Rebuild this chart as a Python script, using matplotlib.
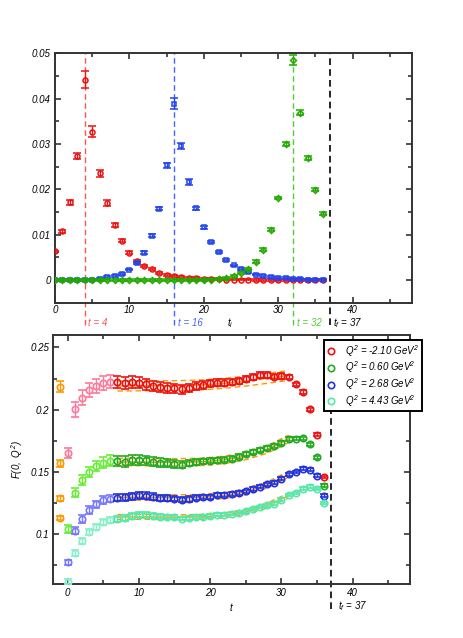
import matplotlib
matplotlib.use("Agg")
import matplotlib.pyplot as plt
from matplotlib.ticker import MultipleLocator, FuncFormatter
import numpy as np

plt.rcParams['font.family'] = ['Liberation Sans', 'DejaVu Sans']
plt.rcParams['font.style'] = 'italic'
plt.rcParams['mathtext.fontset'] = 'custom'
plt.rcParams['mathtext.rm'] = 'Liberation Sans:italic'
plt.rcParams['mathtext.it'] = 'Liberation Sans:italic'

# ---------------- top panel data ----------------
t_top = list(range(0, 37))
red_top = [0.0063, 0.0107, 0.0171, 0.0273, 0.0442, 0.0327, 0.0235, 0.0170, 0.0121, 0.0087,
           0.0060, 0.0042, 0.0031, 0.0024, 0.0016, 0.0011, 0.0008, 0.0006, 0.0005, 0.0004,
           0.0003, 0.0002, 0.0002, 0.0001, 0.0001, 0.0001, 0.0001, 0.0000, 0.0000, 0.0000,
           0.0000, 0.0000, 0.0000, 0.0000, 0.0000, 0.0000, 0.0000]
red_top_err = [0.0002, 0.0003, 0.0005, 0.0007, 0.0019, 0.0012, 0.0008, 0.0006, 0.0005, 0.0004,
               0.0003, 0.0003, 0.0002, 0.0002, 0.0002, 0.0002, 0.0002, 0.0002, 0.0002, 0.0002,
               0.0002, 0.0002, 0.0002, 0.0002, 0.0002, 0.0002, 0.0002, 0.0002, 0.0002, 0.0002,
               0.0002, 0.0002, 0.0002, 0.0002, 0.0002, 0.0002, 0.0002]
blue_top = [0.0000, 0.0000, 0.0000, 0.0000, 0.0000, 0.0001, 0.0003, 0.0006, 0.0009, 0.0013,
            0.0023, 0.0037, 0.0060, 0.0098, 0.0157, 0.0253, 0.0389, 0.0296, 0.0216, 0.0158,
            0.0116, 0.0084, 0.0062, 0.0044, 0.0032, 0.0024, 0.0018, 0.0012, 0.0008, 0.0006,
            0.0005, 0.0004, 0.0003, 0.0002, 0.0001, 0.0001, 0.0001]
blue_top_err = [0.0002, 0.0002, 0.0002, 0.0002, 0.0002, 0.0002, 0.0002, 0.0002, 0.0002, 0.0002,
                0.0002, 0.0002, 0.0003, 0.0003, 0.0003, 0.0005, 0.0012, 0.0007, 0.0006, 0.0003,
                0.0003, 0.0003, 0.0002, 0.0002, 0.0002, 0.0002, 0.0002, 0.0002, 0.0002, 0.0002,
                0.0002, 0.0002, 0.0002, 0.0002, 0.0002, 0.0002, 0.0002]
green_top = [0.0000, 0.0000, 0.0000, 0.0000, 0.0000, 0.0000, 0.0000, 0.0000, 0.0000, 0.0000,
             0.0000, 0.0000, 0.0000, 0.0000, 0.0000, 0.0000, 0.0000, 0.0000, 0.0000, 0.0000,
             0.0000, 0.0001, 0.0002, 0.0005, 0.0009, 0.0016, 0.0024, 0.0040, 0.0067, 0.0111,
             0.0181, 0.0300, 0.0485, 0.0369, 0.0269, 0.0199, 0.0146]
green_top_err = [0.0002, 0.0002, 0.0002, 0.0002, 0.0002, 0.0002, 0.0002, 0.0002, 0.0002, 0.0002,
                 0.0002, 0.0002, 0.0002, 0.0002, 0.0002, 0.0002, 0.0002, 0.0002, 0.0002, 0.0002,
                 0.0002, 0.0002, 0.0002, 0.0002, 0.0002, 0.0002, 0.0002, 0.0003, 0.0003, 0.0003,
                 0.0003, 0.0004, 0.0011, 0.0006, 0.0004, 0.0003, 0.0003]
source_times = [4, 16, 32]
source_labels = ['t = 4', 't = 16', 't = 32']
sink_time = 37
sink_label = r'$t_f$ = 37'

# ---------------- bottom panel data ----------------
t_bot = list(range(-1, 37))
legend_labels = [r'$Q^2$ = -2.10 GeV$^2$', r'$Q^2$ = 0.60 GeV$^2$',
                 r'$Q^2$ = 2.68 GeV$^2$', r'$Q^2$ = 4.43 GeV$^2$']
F_red = [0.2184, 0.1655, 0.2003, 0.2096, 0.2158, 0.2187, 0.2214, 0.2225,
         0.2222, 0.2214, 0.2219, 0.2217, 0.2206, 0.2190, 0.2182, 0.2176, 0.2171, 0.2166,
         0.2176, 0.2192, 0.2200, 0.2211, 0.2217, 0.2217, 0.2225, 0.2233, 0.2243, 0.2259,
         0.2275, 0.2275, 0.2265, 0.2270, 0.2262, 0.2203, 0.2142, 0.2005, 0.1797, 0.1460]
E_red = [0.0045, 0.0040, 0.0060, 0.0060, 0.0058, 0.0056, 0.0055, 0.0050,
         0.0050, 0.0050, 0.0048, 0.0046, 0.0044, 0.0042, 0.0040, 0.0040, 0.0038, 0.0036,
         0.0034, 0.0032, 0.0030, 0.0028, 0.0027, 0.0026, 0.0025, 0.0025, 0.0024, 0.0024,
         0.0024, 0.0024, 0.0022, 0.0022, 0.0016, 0.0014, 0.0013, 0.0012, 0.0012, 0.0010]
F_green = [0.1570, 0.1040, 0.1334, 0.1436, 0.1503, 0.1548, 0.1575, 0.1591,
           0.1588, 0.1583, 0.1594, 0.1599, 0.1594, 0.1583, 0.1575, 0.1572, 0.1564, 0.1559,
           0.1570, 0.1580, 0.1585, 0.1591, 0.1594, 0.1599, 0.1607, 0.1623, 0.1642, 0.1660,
           0.1676, 0.1695, 0.1708, 0.1735, 0.1765, 0.1767, 0.1770, 0.1722, 0.1620, 0.1390]
E_green = [0.0028, 0.0032, 0.0036, 0.0038, 0.0040, 0.0040, 0.0042, 0.0042,
           0.0044, 0.0044, 0.0042, 0.0040, 0.0038, 0.0036, 0.0034, 0.0032, 0.0030, 0.0028,
           0.0026, 0.0024, 0.0022, 0.0021, 0.0020, 0.0019, 0.0018, 0.0018, 0.0017, 0.0017,
           0.0016, 0.0016, 0.0015, 0.0015, 0.0014, 0.0013, 0.0012, 0.0012, 0.0012, 0.0010]
F_blue = [0.1289, 0.0773, 0.1027, 0.1123, 0.1195, 0.1240, 0.1273, 0.1286,
          0.1294, 0.1297, 0.1305, 0.1313, 0.1310, 0.1302, 0.1294, 0.1289, 0.1286, 0.1278,
          0.1283, 0.1294, 0.1300, 0.1302, 0.1313, 0.1315, 0.1323, 0.1331, 0.1345, 0.1364,
          0.1382, 0.1401, 0.1414, 0.1446, 0.1481, 0.1500, 0.1527, 0.1519, 0.1471, 0.1310]
E_blue = [0.0022, 0.0020, 0.0028, 0.0030, 0.0030, 0.0030, 0.0030, 0.0030,
          0.0030, 0.0030, 0.0029, 0.0028, 0.0027, 0.0026, 0.0025, 0.0024, 0.0023, 0.0022,
          0.0021, 0.0020, 0.0018, 0.0017, 0.0016, 0.0015, 0.0015, 0.0014, 0.0014, 0.0013,
          0.0013, 0.0013, 0.0012, 0.0012, 0.0012, 0.0011, 0.0011, 0.0011, 0.0010, 0.0010]
F_mint = [0.1131, 0.0620, 0.0847, 0.0946, 0.1019, 0.1059, 0.1096, 0.1112,
          0.1123, 0.1131, 0.1150, 0.1158, 0.1155, 0.1150, 0.1142, 0.1139, 0.1136, 0.1126,
          0.1128, 0.1139, 0.1142, 0.1147, 0.1155, 0.1155, 0.1163, 0.1171, 0.1184, 0.1203,
          0.1219, 0.1232, 0.1246, 0.1278, 0.1315, 0.1331, 0.1366, 0.1382, 0.1364, 0.1251]
E_mint = [0.0018, 0.0020, 0.0024, 0.0025, 0.0025, 0.0025, 0.0025, 0.0025,
          0.0025, 0.0025, 0.0024, 0.0023, 0.0022, 0.0020, 0.0018, 0.0017, 0.0016, 0.0015,
          0.0015, 0.0014, 0.0013, 0.0013, 0.0012, 0.0012, 0.0012, 0.0011, 0.0011, 0.0011,
          0.0011, 0.0010, 0.0010, 0.0010, 0.0010, 0.0010, 0.0010, 0.0010, 0.0010, 0.0010]

fit_t = [7, 10, 13, 16, 19, 22, 25, 28, 31]
fit_red = [0.2190, 0.2192, 0.2192, 0.2194, 0.2200, 0.2212, 0.2230, 0.2252, 0.2275]
fit_green = [0.1580, 0.1580, 0.1578, 0.1577, 0.1582, 0.1597, 0.1628, 0.1680, 0.1765]
fit_blue = [0.1296, 0.1297, 0.1295, 0.1293, 0.1297, 0.1310, 0.1340, 0.1395, 0.1482]
fit_mint = [0.1138, 0.1140, 0.1138, 0.1136, 0.1140, 0.1152, 0.1180, 0.1230, 0.1310]
fit_halfwidth = [0.0040, 0.0030, 0.0024, 0.0020]

# ---------------- styling ----------------
c_top = ['#ee1111', '#2244ee', '#22aa00']
c_vline = ['#ff5555', '#4466ff', '#55cc33']
c_main = ['#ee1111', '#22aa22', '#2233dd', '#55e8a8']
c_pale = ['#ff7799', '#66ee33', '#7777ff', '#88f0c8']
c_orange = '#ff9900'
spine_c = '#333333'
FS = 7

fig = plt.figure(figsize=(4.63, 6.38), dpi=100)
ax1 = fig.add_axes([0.1188, 0.5256, 0.7711, 0.3909])
ax2 = fig.add_axes([0.1151, 0.0846, 0.7698, 0.3903])

def style(ax):
    for s in ax.spines.values():
        s.set_linewidth(1.4)
        s.set_color(spine_c)
    ax.tick_params(which='both', direction='in', top=True, right=True,
                   labelsize=FS, color=spine_c, width=1.2, pad=3)
    ax.tick_params(which='major', length=4.5)
    ax.tick_params(which='minor', length=3)
    for lab in ax.get_xticklabels() + ax.get_yticklabels():
        lab.set_fontstyle('italic')

# ---- top ----
ax1.errorbar(t_top, red_top, yerr=red_top_err, fmt='o', ms=3.6, mfc='none', mec=c_top[0],
             mew=1.1, ecolor=c_top[0], elinewidth=1.0, capsize=2.6, capthick=1.0, zorder=3)
ax1.errorbar(t_top, blue_top, yerr=blue_top_err, fmt='s', ms=3.4, mfc='none', mec=c_top[1],
             mew=1.1, ecolor=c_top[1], elinewidth=1.0, capsize=2.6, capthick=1.0, zorder=4)
ax1.errorbar(t_top, green_top, yerr=green_top_err, fmt='D', ms=3.0, mfc='none', mec=c_top[2],
             mew=1.1, ecolor=c_top[2], elinewidth=1.0, capsize=2.6, capthick=1.0, zorder=5)
LABY = -0.083
for ts, col, lab in zip(source_times, c_vline, source_labels):
    ax1.axvline(ts, ymin=-0.09, ymax=1.0, color=col, ls=(0, (4, 2.5)), lw=1.0, clip_on=False)
    ax1.text(ts + 0.5, LABY, lab, color=col, fontsize=FS, style='italic',
             ha='left', va='center', transform=ax1.get_xaxis_transform())
ax1.axvline(sink_time, ymin=-0.09, ymax=1.0, color='black', ls=(0, (4, 2.5)), lw=1.2, clip_on=False)
ax1.text(sink_time + 0.4, LABY, sink_label, color='black', fontsize=FS, style='italic',
         ha='left', va='center', transform=ax1.get_xaxis_transform())
ax1.text(23.6, LABY, r'$t_i$', color='black', fontsize=FS, ha='center', va='center',
         transform=ax1.get_xaxis_transform())
ax1.set_xlim(0, 48)
ax1.set_ylim(-0.005, 0.05)
ax1.xaxis.set_major_locator(MultipleLocator(10))
ax1.xaxis.set_minor_locator(MultipleLocator(5))
ax1.yaxis.set_major_locator(MultipleLocator(0.01))
ax1.yaxis.set_minor_locator(MultipleLocator(0.005))
ax1.yaxis.set_major_formatter(FuncFormatter(lambda v, p: '0' if abs(v) < 1e-9 else f'{v:.2f}'))
style(ax1)
ax1.tick_params(axis='x', pad=2)

# ---- bottom ----
series = [(F_red, E_red, fit_red), (F_green, E_green, fit_green),
          (F_blue, E_blue, fit_blue), (F_mint, E_mint, fit_mint)]
t_arr = np.array(t_bot)
for i, (F, E, fit) in enumerate(series):
    F = np.array(F); E = np.array(E)
    fc = np.array(fit)
    hw = fit_halfwidth[i]
    ax2.plot(fit_t, fc, color=c_orange, lw=1.0, zorder=2)
    ax2.plot(fit_t, fc + hw, color=c_orange, lw=1.0, ls=(0, (4, 2.5)), zorder=2)
    ax2.plot(fit_t, fc - hw, color=c_orange, lw=1.0, ls=(0, (4, 2.5)), zorder=2)
    kw = dict(fmt='o', ms=4.6, mfc='none', mew=1.2, elinewidth=1.0, capsize=2.6, capthick=1.0)
    m0 = t_arr == -1
    ax2.errorbar(t_arr[m0], F[m0], yerr=E[m0], mec=c_orange, ecolor=c_orange, zorder=3, **kw)
    m1 = (t_arr >= 0) & (t_arr <= 6)
    ax2.errorbar(t_arr[m1], F[m1], yerr=E[m1], mec=c_pale[i], ecolor=c_pale[i], zorder=3, **kw)
    m2 = t_arr >= 7
    ax2.errorbar(t_arr[m2], F[m2], yerr=E[m2], mec=c_main[i], ecolor=c_main[i], zorder=4, **kw)

ax2.axvline(sink_time, ymin=-0.1, ymax=0.72, color='black', ls=(0, (4, 2.5)), lw=1.2, clip_on=False)
ax2.text(sink_time + 0.9, -0.088, sink_label, color='black', fontsize=FS,
         ha='left', va='center', transform=ax2.get_xaxis_transform())
ax2.set_xlim(-2, 48)
ax2.set_ylim(0.06, 0.26)
ax2.xaxis.set_major_locator(MultipleLocator(10))
ax2.xaxis.set_minor_locator(MultipleLocator(5))
ax2.yaxis.set_major_locator(MultipleLocator(0.05))
ax2.yaxis.set_minor_locator(MultipleLocator(0.025))
ax2.yaxis.set_major_formatter(FuncFormatter(lambda v, p: f'{v:g}'))
ax2.set_xlabel(r'$t$', fontsize=FS, labelpad=2)
ax2.set_ylabel(r'$F(0,\ Q^2)$', fontsize=FS, labelpad=4)
style(ax2)

handles = [plt.Line2D([], [], ls='none', marker='o', ms=4.6, mfc='none', mec=c, mew=1.2)
           for c in c_main]
leg = fig.legend(handles, legend_labels, loc='upper right', bbox_to_anchor=(0.911, 0.467),
                 bbox_transform=fig.transFigure, borderaxespad=0, fontsize=FS,
                 fancybox=False, framealpha=1, edgecolor='black', handlelength=0.8,
                 handletextpad=1.1, labelspacing=0.08, borderpad=0.3)
leg.get_frame().set_linewidth(1.4)
leg.set_zorder(10)

fig.savefig('out.png', dpi=100)
